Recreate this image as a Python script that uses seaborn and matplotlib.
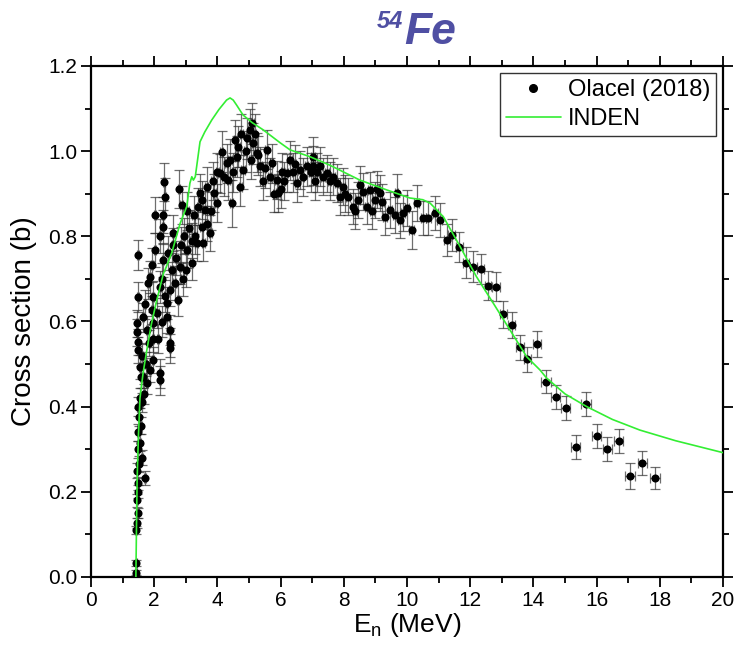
import matplotlib
matplotlib.use("Agg")
import matplotlib.pyplot as plt
import seaborn as sns
import pandas as pd
from matplotlib import font_manager
from matplotlib.lines import Line2D
from matplotlib.ticker import MultipleLocator, FormatStrFormatter

# ---------------- data ----------------
olacel_x = [
    1.42, 1.43, 1.42, 1.46, 1.48, 1.45, 1.50, 1.48, 1.71, 1.47, 1.52, 1.60, 1.48, 1.56, 1.50, 1.58,
    1.53, 1.49, 1.62, 1.56, 1.68, 1.76, 1.66, 1.58, 1.87, 1.55, 1.75, 1.97, 1.62, 1.49, 1.49, 1.85,
    1.95, 1.45, 1.76, 1.45, 1.97, 1.65, 1.92, 1.70, 1.49, 1.97, 1.80, 1.87, 1.92, 1.49,
    2.03, 2.03, 2.10, 2.12, 2.18, 2.18, 2.18, 2.18, 2.25, 2.25, 2.28, 2.28, 2.28, 2.31, 2.34, 2.35,
    2.40, 2.42, 2.45, 2.50, 2.50, 2.50, 2.50, 2.55, 2.60, 2.60, 2.65, 2.70, 2.75, 2.78, 2.82, 2.85,
    2.87, 2.90, 2.95, 3.00, 3.03, 3.05, 3.10, 3.19, 3.19, 3.25, 3.30, 3.34, 3.40, 3.45, 3.50, 3.61,
    3.50, 3.55, 3.66, 3.66, 3.77, 3.80, 3.85, 3.90, 3.98, 4.00, 4.08, 4.14, 4.20, 4.29, 4.34, 4.40,
    4.45, 4.50, 4.56, 4.61, 4.65, 4.72, 4.75, 4.81, 4.90, 4.95, 5.03, 5.05, 5.10, 5.13, 5.18, 5.24,
    5.30, 5.35, 5.45, 5.50, 5.56, 5.65, 5.72, 5.80, 5.88, 5.92, 6.00, 6.05, 6.10, 6.19, 6.30, 6.40,
    6.45, 6.51, 6.61, 6.70, 6.83,
    6.95, 7.03, 7.03, 7.10, 7.15, 7.25, 7.35, 7.46, 7.55, 7.66, 7.77, 7.88, 7.97, 8.05, 8.13, 8.29,
    8.35, 8.45, 8.51, 8.61, 8.72, 8.83, 8.90, 8.99, 9.05, 9.15, 9.20, 9.30, 9.46, 9.62, 9.67, 9.78,
    9.87, 9.99, 10.15, 10.31,
    10.51, 10.67, 10.89, 11.04, 11.26, 11.41, 11.66, 11.87, 12.10, 12.33, 12.57, 12.82, 13.05, 13.31,
    13.58, 13.81, 14.12, 14.40, 14.70, 15.02, 15.34, 15.66, 16.00, 16.34, 16.70, 17.06, 17.45, 17.85,
]
olacel_y = [
    0.010, 0.033, 0.110, 0.127, 0.150, 0.180, 0.200, 0.220, 0.232, 0.250, 0.265, 0.280, 0.300, 0.315, 0.340, 0.355,
    0.376, 0.400, 0.410, 0.420, 0.430, 0.455, 0.470, 0.470, 0.486, 0.493, 0.500, 0.510, 0.520, 0.533, 0.552, 0.550,
    0.560, 0.575, 0.580, 0.596, 0.596, 0.610, 0.627, 0.640, 0.658, 0.658, 0.690, 0.705, 0.733, 0.756,
    0.768, 0.850, 0.620, 0.560, 0.462, 0.479, 0.681, 0.800, 0.600, 0.700, 0.744, 0.822, 0.850, 0.928, 0.893, 0.660,
    0.643, 0.610, 0.760, 0.537, 0.550, 0.580, 0.674, 0.720, 0.780, 0.808, 0.690, 0.750, 0.650, 0.911, 0.728, 0.780,
    0.874, 0.700, 0.800, 0.720, 0.768, 0.860, 0.820, 0.737, 0.790, 0.850, 0.800, 0.784, 0.870, 0.902, 0.822, 0.862,
    0.885, 0.784, 0.830, 0.917, 0.808, 0.860, 0.930, 0.902, 0.878, 0.950, 0.948, 0.999, 0.940, 0.972, 0.932, 0.980,
    0.878, 0.950, 1.026, 0.987, 1.010, 0.917, 1.040, 0.956, 1.000, 1.030, 1.050, 0.980, 1.065, 1.019, 1.040, 0.996,
    0.990, 0.964, 0.930, 0.960, 1.003, 0.940, 0.972, 0.900, 0.932, 0.902, 0.910, 0.950, 0.930, 0.948, 0.979, 0.950,
    0.970, 0.925, 0.956, 0.940, 0.964,
    0.950, 0.987, 0.966, 0.930, 0.950, 0.964, 0.940, 0.948, 0.930, 0.940, 0.925, 0.893, 0.917, 0.900, 0.893, 0.870,
    0.860, 0.885, 0.921, 0.905, 0.870, 0.909, 0.860, 0.885, 0.910, 0.902, 0.881, 0.846, 0.862, 0.850, 0.902, 0.838,
    0.854, 0.866, 0.815, 0.878,
    0.843, 0.843, 0.854, 0.838, 0.791, 0.803, 0.775, 0.738, 0.729, 0.723, 0.684, 0.682, 0.617, 0.592,
    0.539, 0.511, 0.547, 0.459, 0.423, 0.396, 0.306, 0.406, 0.331, 0.301, 0.319, 0.237, 0.267, 0.233,
]
olacel_dy = [
    0.006, 0.006, 0.010, 0.012, 0.012, 0.015, 0.015, 0.016, 0.016, 0.018, 0.018, 0.018, 0.020, 0.020, 0.020, 0.020,
    0.022, 0.022, 0.022, 0.024, 0.024, 0.025, 0.025, 0.025, 0.028, 0.028, 0.028, 0.030, 0.030, 0.030, 0.030, 0.030,
    0.032, 0.032, 0.032, 0.032, 0.034, 0.034, 0.034, 0.034, 0.035, 0.036, 0.036, 0.038, 0.040, 0.036,
    0.040, 0.042, 0.036, 0.034, 0.034, 0.034, 0.038, 0.040, 0.036, 0.038, 0.040, 0.040, 0.042, 0.045, 0.044, 0.038,
    0.038, 0.036, 0.040, 0.034, 0.034, 0.036, 0.038, 0.040, 0.040, 0.042, 0.040, 0.040, 0.038, 0.044, 0.040, 0.042,
    0.044, 0.040, 0.042, 0.040, 0.042, 0.044, 0.042, 0.040, 0.042, 0.044, 0.042, 0.042, 0.044, 0.045, 0.042, 0.044,
    0.044, 0.042, 0.042, 0.045, 0.042, 0.044, 0.045, 0.045, 0.044, 0.046, 0.046, 0.048, 0.046, 0.046, 0.046, 0.048,
    0.055, 0.046, 0.048, 0.048, 0.048, 0.046, 0.048, 0.046, 0.048, 0.048, 0.048, 0.046, 0.048, 0.048, 0.048, 0.046,
    0.046, 0.046, 0.045, 0.046, 0.046, 0.045, 0.046, 0.044, 0.045, 0.044, 0.044, 0.045, 0.045, 0.045, 0.046, 0.045,
    0.045, 0.044, 0.045, 0.045, 0.045,
    0.045, 0.046, 0.045, 0.044, 0.045, 0.045, 0.044, 0.044, 0.044, 0.044, 0.044, 0.043, 0.044, 0.043, 0.043, 0.042,
    0.042, 0.043, 0.044, 0.043, 0.042, 0.043, 0.042, 0.043, 0.043, 0.043, 0.042, 0.042, 0.042, 0.042, 0.045, 0.041,
    0.042, 0.042, 0.045, 0.042,
    0.040, 0.040, 0.040, 0.040, 0.038, 0.038, 0.036, 0.036, 0.036, 0.035, 0.034, 0.034, 0.032, 0.031,
    0.030, 0.030, 0.030, 0.028, 0.028, 0.028, 0.028, 0.028, 0.028, 0.028, 0.028, 0.030, 0.028, 0.026,
]
olacel_dx = (
    [0.02, 0.02] + [0.03] * 44
    + [0.04] * 35 + [0.05] * 13
    + [0.05] * 53
    + [0.06] * 34 + [0.08] * 2
    + [0.08] * 4 + [0.10] * 7 + [0.12] * 6 + [0.15] * 11
)

inden_x = [1.42, 1.44, 1.46, 1.50, 1.55, 1.65, 1.76, 1.90, 2.08, 2.30, 2.35, 2.47, 2.55, 2.82, 3.03,
           3.13, 3.19, 3.24, 3.30, 3.45, 3.60, 3.82, 4.05, 4.29, 4.40, 4.50, 4.61, 4.81, 5.10, 5.45,
           5.98, 6.30, 6.93, 7.56, 8.51, 9.36, 10.09, 10.50, 10.73, 10.94, 11.15, 11.68, 12.20, 12.73,
           13.26, 13.79, 14.21, 14.42, 15.00, 15.69, 16.50, 17.37, 18.50, 20.00]
inden_y = [0.000, 0.120, 0.230, 0.330, 0.420, 0.480, 0.530, 0.590, 0.650, 0.715, 0.722, 0.745, 0.760, 0.830, 0.870,
           0.925, 0.940, 0.932, 0.940, 1.022, 1.045, 1.073, 1.098, 1.120, 1.125, 1.120, 1.108, 1.085, 1.067, 1.050,
           1.020, 1.003, 0.987, 0.967, 0.932, 0.909, 0.890, 0.886, 0.878, 0.862, 0.846, 0.776, 0.705, 0.643,
           0.580, 0.517, 0.486, 0.467, 0.430, 0.400, 0.370, 0.345, 0.320, 0.292]

labels = ["Olacel (2018)", "INDEN"]

# ---------------- style ----------------
sns.set_style("ticks")
names = {f.name for f in font_manager.fontManager.ttflist}
narrow = "Liberation Sans Narrow" if "Liberation Sans Narrow" in names else "Liberation Sans"
plt.rcParams['font.family'] = ['Liberation Sans', 'DejaVu Sans']
plt.rcParams['mathtext.default'] = 'regular'
plt.rcParams['text.color'] = 'black'
plt.rcParams['axes.labelcolor'] = 'black'
plt.rcParams['xtick.color'] = 'black'
plt.rcParams['ytick.color'] = 'black'

GREEN = '#33ee33'
TITLE = '#4f4fa3'

fig = plt.figure(figsize=(7.38, 6.64), dpi=100)
ax = fig.add_axes([91 / 738, 1 - 577 / 664, (723 - 91) / 738, (577 - 66) / 664])

df_o = pd.DataFrame({"E": olacel_x, "xs": olacel_y, "dy": olacel_dy, "dx": olacel_dx})
df_i = pd.DataFrame({"E": inden_x, "xs": inden_y})

ax.errorbar(df_o["E"], df_o["xs"], yerr=df_o["dy"], xerr=df_o["dx"], fmt='none',
            ecolor='#303030', elinewidth=0.9, capsize=3.6, capthick=0.9, alpha=0.7, zorder=2)
sns.scatterplot(data=df_o, x="E", y="xs", ax=ax, color='black', s=34, linewidth=0,
                zorder=3, legend=False)
sns.lineplot(data=df_i, x="E", y="xs", ax=ax, color=GREEN, lw=1.2, sort=False,
             estimator=None, zorder=4, legend=False)

ax.set_xlim(0, 20)
ax.set_ylim(0, 1.2)
ax.xaxis.set_major_locator(MultipleLocator(2))
ax.xaxis.set_minor_locator(MultipleLocator(1))
ax.yaxis.set_major_locator(MultipleLocator(0.2))
ax.yaxis.set_minor_locator(MultipleLocator(0.1))
ax.yaxis.set_major_formatter(FormatStrFormatter('%.1f'))
ax.tick_params(which='both', direction='out', top=True, right=True, width=1.3,
               color='black', labelcolor='black')
ax.tick_params(which='major', length=7)
ax.tick_params(which='minor', length=4)
ax.tick_params(labelsize=15, pad=3)
for lab in ax.get_xticklabels() + ax.get_yticklabels():
    lab.set_fontfamily(narrow)
for sp in ax.spines.values():
    sp.set_linewidth(1.6)
    sp.set_color('black')

ax.set_xlabel(r"E$_{\mathregular{n}}$ (MeV)", fontsize=19, fontfamily=narrow, labelpad=1,
              color='black')
ax.set_ylabel("Cross section (b)", fontsize=20, labelpad=8, color='black')

handles = [Line2D([], [], marker='o', color='black', ls='none', markersize=5.5),
           Line2D([], [], color=GREEN, lw=1.2)]
leg = ax.legend(handles, labels, loc='upper right', fontsize=17, fancybox=False,
                edgecolor='#333333', framealpha=1, handlelength=2.3, borderpad=0.25,
                labelspacing=0.3, handletextpad=0.3, borderaxespad=0.3)
leg.get_frame().set_linewidth(1.0)
for t in leg.get_texts():
    t.set_color('black')

fig.text(377 / 738, 1 - 28 / 664, "54", fontsize=17, fontweight='bold', fontstyle='italic',
         color=TITLE, ha='left', va='baseline')
fig.text(404 / 738, 1 - 44 / 664, "Fe", fontsize=32, fontweight='bold', fontstyle='italic',
         color=TITLE, ha='left', va='baseline')

fig.savefig("out.png", dpi=100)
